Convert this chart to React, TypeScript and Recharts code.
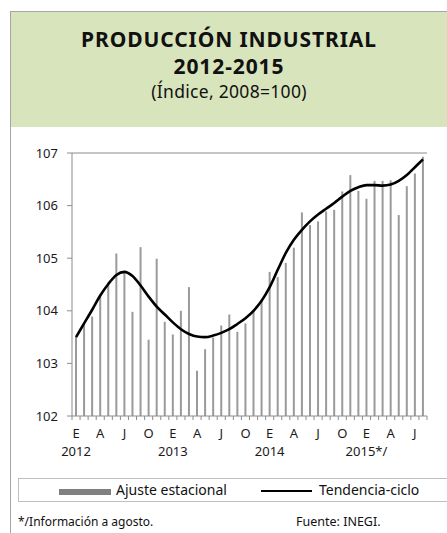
import { ComposedChart, Bar, Line, XAxis, YAxis, ReferenceLine } from "recharts";

const monthLetters = [
  "E", "F", "M", "A", "M", "J", "J", "A", "S", "O", "N", "D",
  "E", "F", "M", "A", "M", "J", "J", "A", "S", "O", "N", "D",
  "E", "F", "M", "A", "M", "J", "J", "A", "S", "O", "N", "D",
  "E", "F", "M", "A", "M", "J", "J", "A",
];
const yearLabels = ["2012", "2013", "2014", "2015*/"];

const ajusteEstacional = [
  103.5, 103.75, 103.89, 104.3, 104.52, 105.09, 104.73, 103.98, 105.21, 103.45, 104.99, 103.79,
  103.55, 104.0, 104.45, 102.86, 103.27, 103.49, 103.72, 103.93, 103.6, 103.76, 104.02, 104.21,
  104.74, 104.64, 104.91, 105.2, 105.87, 105.63, 105.7, 105.89, 105.92, 106.27, 106.58, 106.28,
  106.13, 106.47, 106.47, 106.48, 105.82, 106.37, 106.61, 106.93,
];
const tendenciaCiclo = [
  103.5, 103.76, 104.02, 104.29, 104.51, 104.68, 104.74, 104.66, 104.48, 104.27, 104.08, 103.93,
  103.78, 103.65, 103.56, 103.51, 103.5, 103.53, 103.58, 103.65, 103.75, 103.86, 104.0, 104.19,
  104.45, 104.78, 105.1, 105.35, 105.54, 105.7, 105.83, 105.94, 106.05, 106.17, 106.28, 106.35,
  106.39, 106.39, 106.38, 106.4, 106.47, 106.58, 106.73, 106.88,
];
const yTicks = [102, 103, 104, 105, 106, 107];

const data = monthLetters.map((m, i) => ({
  key: i,
  month: m,
  ajuste: ajusteEstacional[i],
  tendencia: tendenciaCiclo[i],
}));

const FONT = "'Noto Sans', sans-serif";
const AXIS = "#8c8c8c";

function MonthTick(props: any) {
  const { x, y, payload } = props;
  const i = props.index ?? payload.index ?? 0;
  const half = payload.offset ?? 4;
  const showMonth = i % 3 === 0;
  const showYear = i % 12 === 0;
  const last = i === monthLetters.length - 1;
  return (
    <g>
      <line x1={x - half} x2={x - half} y1={y} y2={y + 4} stroke={AXIS} strokeWidth={1} />
      {last && <line x1={x + half} x2={x + half} y1={y} y2={y + 4} stroke={AXIS} strokeWidth={1} />}
      {showMonth && (
        <text x={x} y={y + 22} textAnchor="middle" fontSize={13} fill="#1a1a1a" fontFamily={FONT}>
          {monthLetters[i]}
        </text>
      )}
      {showYear && (
        <text x={x} y={y + 40} textAnchor="middle" fontSize={13} fill="#1a1a1a" fontFamily={FONT}>
          {yearLabels[Math.floor(i / 12)]}
        </text>
      )}
    </g>
  );
}

export default function App() {
  return (
    <div style={{ position: "absolute", left: 0, top: 0, width: 447, height: 533, background: "#fff", fontFamily: FONT, overflow: "hidden" }}>
      <div style={{ position: "absolute", left: 10, top: 11, width: 437, height: 530, borderLeft: "1px solid #a6a6a6", borderTop: "1px solid #a6a6a6" }} />
      <div style={{ position: "absolute", left: 11, top: 12, width: 436, height: 115, background: "#d8e4bc", textAlign: "center", color: "#111" }}>
        <div style={{ fontSize: 21, fontWeight: 700, lineHeight: "27px", marginTop: 14, letterSpacing: 0.9 }}>PRODUCCIÓN INDUSTRIAL</div>
        <div style={{ fontSize: 21, fontWeight: 700, lineHeight: "27px", letterSpacing: 0.9 }}>2012-2015</div>
        <div style={{ fontSize: 17.5, lineHeight: "22px", letterSpacing: 0.3 }}>(Índice, 2008=100)</div>
      </div>
      <div style={{ position: "absolute", left: 0, top: 0 }}>
        <ComposedChart width={447} height={533} data={data} margin={{ top: 153, right: 20, bottom: 72, left: 10 }}>
          <XAxis
            dataKey="key"
            interval={0}
            height={45}
            tickSize={0}
            tickMargin={0}
            tickLine={false}
            axisLine={{ stroke: AXIS }}
            tick={<MonthTick />}
          />
          <YAxis
            yAxisId="l"
            domain={[102, 107]}
            ticks={yTicks}
            width={62}
            tickSize={5}
            tickMargin={9}
            axisLine={{ stroke: AXIS }}
            tickLine={{ stroke: AXIS }}
            tick={{ fontSize: 13, fill: "#1a1a1a", fontFamily: FONT }}
          />
          <YAxis yAxisId="r" orientation="right" domain={[102, 107]} width={0} tick={false} tickLine={false} axisLine={{ stroke: AXIS }} />
          <ReferenceLine yAxisId="l" y={107} stroke={AXIS} />
          <Bar yAxisId="l" dataKey="ajuste" barSize={2} fill="#9a9a9a" isAnimationActive={false} />
          <Line yAxisId="l" type="monotone" dataKey="tendencia" stroke="#000" strokeWidth={2.6} dot={false} isAnimationActive={false} />
        </ComposedChart>
      </div>
      <div style={{ position: "absolute", left: 18, top: 478, width: 440, height: 24, border: "1px solid #bfbfbf", boxSizing: "border-box" }}>
        <div style={{ position: "absolute", left: 40, top: 10, width: 52, height: 6, background: "#808080" }} />
        <div style={{ position: "absolute", left: 97, top: 1, fontSize: 14, lineHeight: "20px", color: "#111" }}>Ajuste estacional</div>
        <div style={{ position: "absolute", left: 242, top: 11, width: 51, height: 2, background: "#000" }} />
        <div style={{ position: "absolute", left: 300, top: 1, fontSize: 14, lineHeight: "20px", color: "#111" }}>Tendencia-ciclo</div>
      </div>
      <div style={{ position: "absolute", left: 18, top: 513, fontSize: 12, lineHeight: "18px", color: "#111" }}>*/Información a agosto.</div>
      <div style={{ position: "absolute", left: 296, top: 513, fontSize: 12.5, lineHeight: "18px", color: "#111" }}>Fuente: INEGI.</div>
    </div>
  );
}
